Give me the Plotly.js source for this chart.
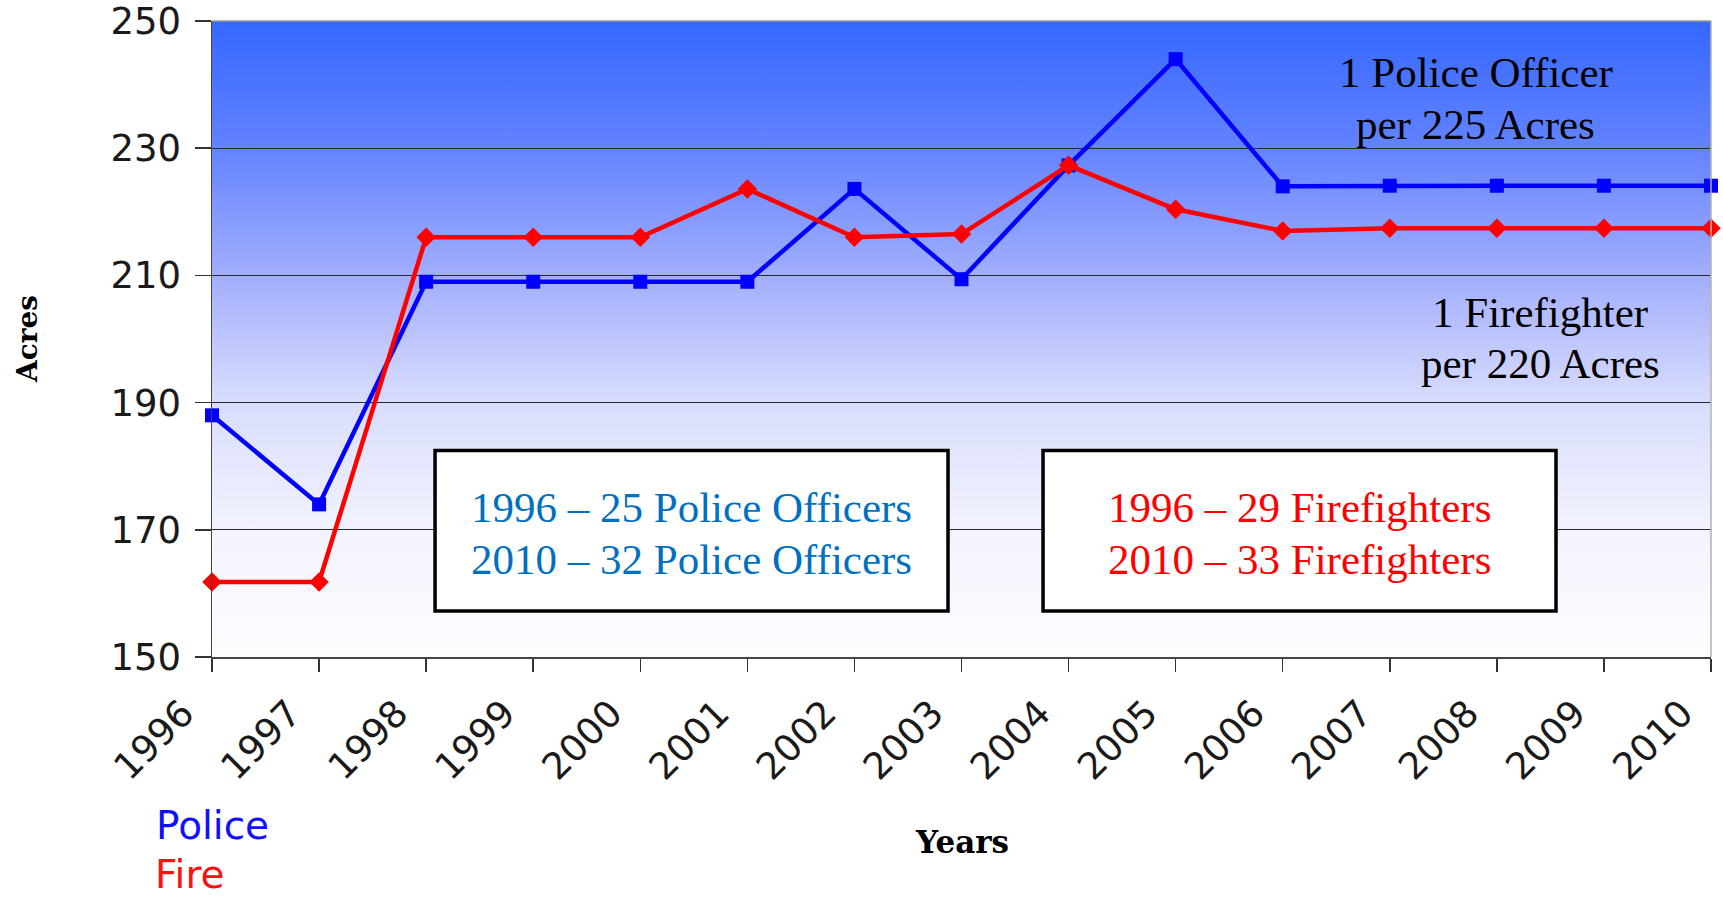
<!DOCTYPE html>
<html>
<head>
<meta charset="utf-8">
<script src="https://cdn.plot.ly/plotly-3.0.1.min.js"></script>
<style>
  html, body { margin: 0; padding: 0; background: #ffffff; }
  #chart { width: 1723px; height: 900px; }
</style>
</head>
<body>
<div id="chart"></div>
<script>
// ---- Data ----
var years = [1996, 1997, 1998, 1999, 2000, 2001, 2002, 2003, 2004, 2005, 2006, 2007, 2008, 2009, 2010];
var yearLabels = ["1996", "1997", "1998", "1999", "2000", "2001", "2002", "2003", "2004", "2005", "2006", "2007", "2008", "2009", "2010"];
var policeAcres = [188, 174, 209, 209, 209, 209, 223.6, 209.4, 227.3, 244, 224, 224.1, 224.1, 224.1, 224.1];
var fireAcres = [161.8, 161.8, 216, 216, 216, 223.6, 216, 216.5, 227.3, 220.4, 217, 217.4, 217.4, 217.4, 217.4];
var yTicks = [150, 170, 190, 210, 230, 250];
var seriesNames = ["Police", "Fire"];
var policeNoteLines = ["1 Police Officer", "per 225 Acres"];
var fireNoteLines = ["1 Firefighter", "per 220 Acres"];
var policeBoxLines = ["1996 – 25 Police Officers", "2010 – 32 Police Officers"];
var fireBoxLines = ["1996 – 29 Firefighters", "2010 – 33 Firefighters"];

// ---- Background gradient (styling) ----
var svg = "<svg xmlns='http://www.w3.org/2000/svg' width='10' height='100' viewBox='0 0 10 100' preserveAspectRatio='none'>" +
  "<defs><linearGradient id='g' x1='0' y1='0' x2='0' y2='1'>" +
  "<stop offset='0' stop-color='#3567ff'/>" +
  "<stop offset='0.2' stop-color='#6383ff'/>" +
  "<stop offset='0.4' stop-color='#a2aefd'/>" +
  "<stop offset='0.6' stop-color='#d9ddfd'/>" +
  "<stop offset='0.8' stop-color='#f2f3fe'/>" +
  "<stop offset='1' stop-color='#fdfdff'/>" +
  "</linearGradient></defs><rect x='0' y='0' width='10' height='100' fill='url(#g)'/></svg>";
var bgUri = "data:image/svg+xml;charset=utf-8," + encodeURIComponent(svg);

var tickFont = {family: "DejaVu Sans, Verdana, sans-serif", size: 37, color: "#1a1a1a"};
var serifFont = "Liberation Serif, Cambria, serif";

var traces = [
  {
    x: years, y: policeAcres, name: seriesNames[0], type: "scatter", mode: "lines+markers",
    line: {color: "#0000ff", width: 4.5},
    marker: {symbol: "square", size: 14, color: "#0000ff"},
    showlegend: false, hoverinfo: "x+y", cliponaxis: false
  },
  {
    x: years, y: fireAcres, name: seriesNames[1], type: "scatter", mode: "lines+markers",
    line: {color: "#ff0000", width: 4.5},
    marker: {symbol: "diamond", size: 15, color: "#ff0000"},
    showlegend: false, hoverinfo: "x+y", cliponaxis: false
  }
];

function textAnn(x, y, txt, color) {
  return {xref: "paper", yref: "paper", x: x, y: y, text: txt, showarrow: false,
    font: {family: serifFont, size: 43, color: color}, align: "center",
    xanchor: "center", yanchor: "middle"};
}

var annotations = [
  textAnn(0.843, 0.919, policeNoteLines[0], "#000000"),
  textAnn(0.843, 0.8377, policeNoteLines[1], "#000000"),
  textAnn(0.886, 0.5423, fireNoteLines[0], "#000000"),
  textAnn(0.886, 0.4612, fireNoteLines[1], "#000000"),
  textAnn(0.3199, 0.2348, policeBoxLines[0], "#0070c0"),
  textAnn(0.3199, 0.1536, policeBoxLines[1], "#0070c0"),
  textAnn(0.7255, 0.2348, fireBoxLines[0], "#ff0000"),
  textAnn(0.7255, 0.1536, fireBoxLines[1], "#ff0000"),
  // axis titles
  {xref: "paper", yref: "paper", x: 0.5, y: 0, yshift: -185, text: "<b>Years</b>", showarrow: false,
   font: {family: "DejaVu Serif, serif", size: 31, color: "#000000"}, xanchor: "center", yanchor: "middle"},
  {xref: "paper", yref: "paper", x: 0, xshift: -185, y: 0.5, text: "<b>Acres</b>", showarrow: false, textangle: -90,
   font: {family: "DejaVu Serif, serif", size: 28, color: "#000000"}, xanchor: "center", yanchor: "middle"},
  // legend labels
  {xref: "paper", yref: "paper", x: 0, xshift: -58, y: 0, yshift: -168, text: seriesNames[0], showarrow: false,
   font: {family: "DejaVu Sans, Verdana, sans-serif", size: 39, color: "#1010ff"}, xanchor: "left", yanchor: "middle"},
  {xref: "paper", yref: "paper", x: 0, xshift: -58, y: 0, yshift: -241, text: seriesNames[1], showarrow: false,
   borderpad: 0,
   font: {family: "DejaVu Sans, Verdana, sans-serif", size: 39, color: "#ff1010"}, xanchor: "left", yanchor: "bottom"}
];

var layout = {
  width: 1723, height: 900,
  margin: {l: 212, r: 12, t: 21, b: 243, pad: 0},
  paper_bgcolor: "#ffffff",
  plot_bgcolor: "#ffffff",
  showlegend: false,
  xaxis: {
    type: "linear",
    range: [years[0] - 0.0001, years[years.length - 1] + 0.0001],
    tickvals: years, ticktext: yearLabels,
    tickangle: -45,
    ticks: "outside", ticklen: 13, tickwidth: 1.5, tickcolor: "#333333",
    showgrid: false, zeroline: false,
    showline: true, linecolor: "#444444", linewidth: 1.5,
    tickfont: tickFont,
    ticklabelstandoff: 5,
    ticklabelshift: -29,
    ticklabeloverflow: "allow",
    fixedrange: true
  },
  yaxis: {
    range: [150, 250],
    tickvals: yTicks,
    ticks: "outside", ticklen: 16, tickwidth: 1.5, tickcolor: "#333333",
    showgrid: true, gridcolor: "#2a2a2a", gridwidth: 1.2,
    zeroline: false,
    showline: true, linecolor: "#444444", linewidth: 1.5,
    tickfont: tickFont,
    ticklabelstandoff: 6,
    ticklabeloverflow: "allow",
    fixedrange: true
  },
  images: [{
    source: bgUri, xref: "paper", yref: "paper",
    x: 0, y: 1, sizex: 1, sizey: 1, sizing: "stretch",
    xanchor: "left", yanchor: "top", layer: "below"
  }],
  shapes: [
    {type: "line", xref: "paper", yref: "paper", x0: 0, x1: 1, y0: 1, y1: 1, line: {color: "#9a9a9a", width: 1.5}},
    {type: "line", xref: "paper", yref: "paper", x0: 1, x1: 1, y0: 0, y1: 1, line: {color: "#b0b0b0", width: 1.5}},
    {type: "rect", xref: "paper", yref: "paper", x0: 0.1488, x1: 0.491, y0: 0.0723, y1: 0.3247,
     fillcolor: "#ffffff", line: {color: "#000000", width: 3.5}, layer: "above"},
    {type: "rect", xref: "paper", yref: "paper", x0: 0.5544, x1: 0.8966, y0: 0.0723, y1: 0.3247,
     fillcolor: "#ffffff", line: {color: "#000000", width: 3.5}, layer: "above"}
  ],
  annotations: annotations
};

Plotly.newPlot("chart", traces, layout, {displayModeBar: false, staticPlot: true});
</script>
</body>
</html>
